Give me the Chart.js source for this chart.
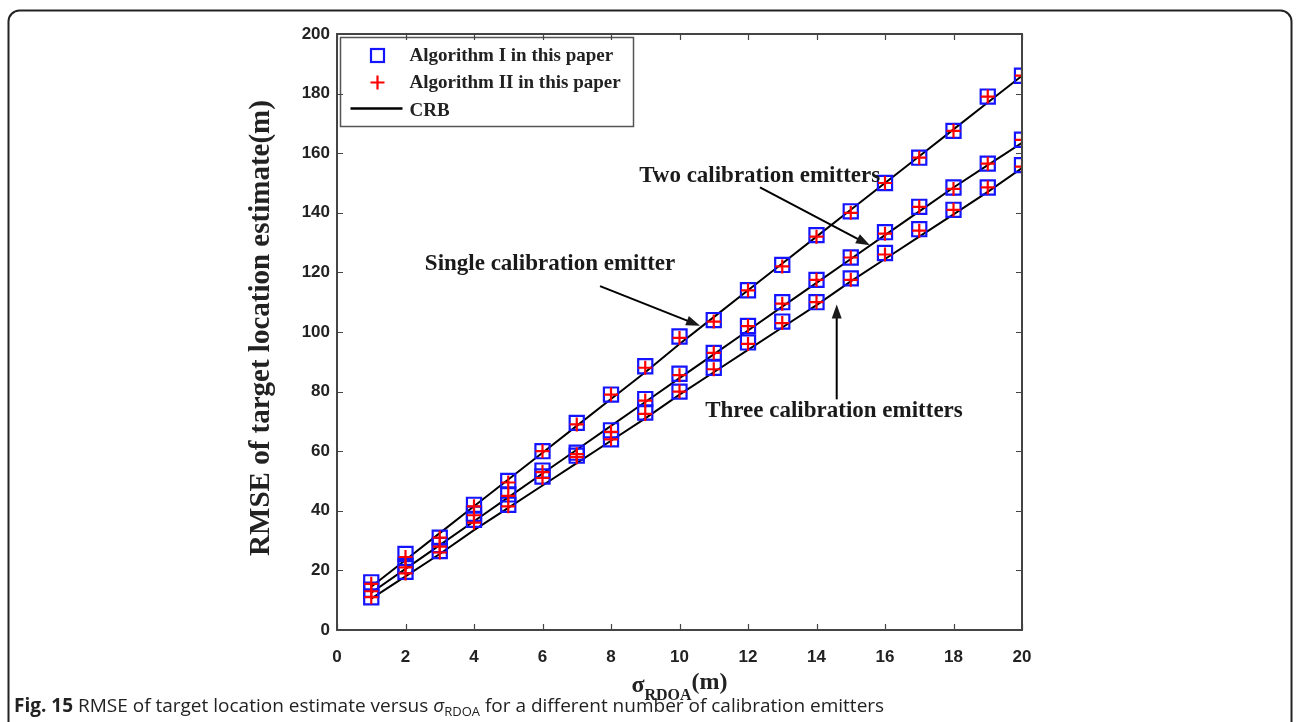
<!DOCTYPE html>
<html>
<head>
<meta charset="utf-8">
<script src="https://cdn.jsdelivr.net/npm/chart.js@4.4.0/dist/chart.umd.min.js"></script>
<style>
    html, body { margin: 0; padding: 0; background: #fff; }
    #wrap { position: relative; width: 1296px; height: 722px; }
</style>
</head>
<body>
<div id="wrap"><canvas id="rmseChart" width="1296" height="722"></canvas></div>
<script>
// sigma_RDOA (m)
const sigmaValues = [1, 2, 3, 4, 5, 6, 7, 8, 9, 10, 11, 12, 13, 14, 15, 16, 17, 18, 19, 20];
const xTickValues = [0, 2, 4, 6, 8, 10, 12, 14, 16, 18, 20];
const yTickValues = [0, 20, 40, 60, 80, 100, 120, 140, 160, 180, 200];

// single calibration emitter
const singleAlgI  = [16, 25.5, 31, 42, 50, 60, 69.5, 79, 88.5, 98.5, 104, 114, 122.5, 132.5, 140.5, 150, 158.5, 167.5, 179, 186];
const singleAlgII = [15.5, 24.5, 31, 41.5, 49.5, 60, 69, 79, 88, 98, 103.5, 114, 122, 132, 140, 150, 158.5, 167.5, 179, 186];
const singleCRB   = [14.5, 23.5, 32.5, 41.5, 50.5, 59.5, 68.5, 77.5, 86.5, 96, 105, 114, 123, 132, 141, 150, 159, 168, 177, 186];

// two calibration emitters
const twoAlgI  = [13.5, 21.5, 28.5, 39, 45.5, 53.5, 59.5, 67, 77.5, 86, 93, 102, 110, 117.5, 125, 133.5, 142, 148.5, 156.5, 164.5];
const twoAlgII = [13, 21, 28, 38.5, 45, 53, 59, 66.5, 77, 85.5, 93, 102, 109.5, 117.5, 125, 133, 142, 148, 156.5, 164.5];
const twoCRB   = [12.5, 20.5, 28.5, 36.5, 44.5, 52.5, 60.5, 68.5, 76.5, 84.5, 92.5, 100.5, 108.5, 116.5, 124.5, 132.5, 140.5, 148.5, 156, 163.5];

// three calibration emitters
const threeAlgI  = [11, 19.5, 26.5, 37, 42, 51.5, 58.5, 64, 73, 80, 88, 96.5, 103.5, 110, 118, 126.5, 134.5, 141, 148.5, 156];
const threeAlgII = [11, 19, 26, 36, 41.5, 51, 58, 64, 72.5, 80, 87.5, 96, 103, 110, 117.5, 126, 134, 141, 148.5, 155.5];
const threeCRB   = [10.5, 18, 25.5, 33.5, 41, 48.5, 56, 63.5, 71, 79, 86.5, 94, 101.5, 109, 117, 124.5, 132, 139.5, 147, 155];

const legendLabels = ['Algorithm I in this paper', 'Algorithm II in this paper', 'CRB'];

// text callouts, in data coordinates
const callouts = [
    { text: 'Single calibration emitter', at: [6.22, 122.9], from: [7.68, 115.4], to: [10.6, 102.1] },
    { text: 'Two calibration emitters', at: [12.34, 152.4], from: [12.35, 148.5], to: [15.56, 129.1] },
    { text: 'Three calibration emitters', at: [14.51, 73.4], from: [14.59, 77.4], to: [14.59, 109.2] }
];

const SERIF = '"Liberation Serif", "Times New Roman", serif';
const TICK_FONT = '"Liberation Sans Narrow", "Liberation Sans", Arial, sans-serif';

function toPoints(values) {
    return sigmaValues.map((s, i) => ({ x: s, y: values[i] }));
}

function crbDataset(values) {
    return {
        label: 'CRB',
        data: toPoints(values),
        borderColor: '#000',
        borderWidth: 2,
        pointRadius: 0,
        fill: false,
        tension: 0,
        order: 3
    };
}

function squareDataset(values) {
    return {
        label: legendLabels[0],
        data: toPoints(values),
        showLine: false,
        pointStyle: 'rect',
        pointRadius: 10,
        pointBorderWidth: 2.2,
        pointBorderColor: '#1414ff',
        pointBackgroundColor: 'rgba(0,0,0,0)',
        order: 2
    };
}

function plusDataset(values) {
    return {
        label: legendLabels[1],
        data: toPoints(values),
        showLine: false,
        pointStyle: 'cross',
        pointRadius: 7,
        pointBorderWidth: 2.2,
        pointBorderColor: '#ff0000',
        order: 1
    };
}

function drawArrow(ctx, x1, y1, x2, y2) {
    const ang = Math.atan2(y2 - y1, x2 - x1);
    const headLen = 14, headW = 5;
    ctx.beginPath();
    ctx.moveTo(x1, y1);
    ctx.lineTo(x2 - headLen * 0.8 * Math.cos(ang), y2 - headLen * 0.8 * Math.sin(ang));
    ctx.stroke();
    ctx.beginPath();
    ctx.moveTo(x2, y2);
    ctx.lineTo(x2 - headLen * Math.cos(ang) + headW * Math.sin(ang), y2 - headLen * Math.sin(ang) - headW * Math.cos(ang));
    ctx.lineTo(x2 - headLen * Math.cos(ang) - headW * Math.sin(ang), y2 - headLen * Math.sin(ang) + headW * Math.cos(ang));
    ctx.closePath();
    ctx.fill();
}

const figurePlugin = {
    id: 'figureDecor',
    beforeDraw(chart) {
        const ctx = chart.ctx;
        ctx.save();
        ctx.fillStyle = '#fff';
        ctx.fillRect(0, 0, chart.width, chart.height);
        ctx.restore();
    },
    afterDraw(chart) {
        const ctx = chart.ctx;
        const a = chart.chartArea;
        const xs = chart.scales.x, ys = chart.scales.y;
        ctx.save();

        // legend box
        const lx = a.left + 3.5, ly = a.top + 3.5, lw = 293, lh = 89;
        ctx.fillStyle = '#fff';
        ctx.fillRect(lx, ly, lw, lh);
        ctx.strokeStyle = '#555';
        ctx.lineWidth = 1.5;
        ctx.strokeRect(lx, ly, lw, lh);
        const mx = lx + 37;
        ctx.strokeStyle = '#1414ff';
        ctx.lineWidth = 2.2;
        ctx.strokeRect(mx - 6.5, ly + 11.5, 13, 13);
        ctx.strokeStyle = '#ff0000';
        ctx.beginPath();
        ctx.moveTo(mx - 7, ly + 45); ctx.lineTo(mx + 7, ly + 45);
        ctx.moveTo(mx, ly + 38); ctx.lineTo(mx, ly + 52);
        ctx.stroke();
        ctx.strokeStyle = '#000';
        ctx.lineWidth = 2.5;
        ctx.beginPath();
        ctx.moveTo(lx + 10, ly + 71); ctx.lineTo(lx + 62, ly + 71);
        ctx.stroke();
        ctx.fillStyle = '#222';
        ctx.font = 'bold 19px ' + SERIF;
        ctx.textAlign = 'left';
        ctx.textBaseline = 'middle';
        ctx.fillText(legendLabels[0], lx + 69, ly + 19);
        ctx.fillText(legendLabels[1], lx + 69, ly + 46);
        ctx.fillText(legendLabels[2], lx + 69, ly + 74);

        // plot box with inward ticks on all sides
        ctx.strokeStyle = '#444';
        ctx.lineWidth = 2;
        ctx.strokeRect(a.left, a.top, a.right - a.left, a.bottom - a.top);
        ctx.lineWidth = 1.2;
        ctx.beginPath();
        xTickValues.forEach(v => {
            const px = Math.round(xs.getPixelForValue(v)) + 0.5;
            ctx.moveTo(px, a.bottom); ctx.lineTo(px, a.bottom - 6);
            ctx.moveTo(px, a.top); ctx.lineTo(px, a.top + 6);
        });
        yTickValues.forEach(v => {
            const py = Math.round(ys.getPixelForValue(v)) + 0.5;
            ctx.moveTo(a.left, py); ctx.lineTo(a.left + 6, py);
            ctx.moveTo(a.right, py); ctx.lineTo(a.right - 6, py);
        });
        ctx.stroke();

        // callouts
        ctx.fillStyle = '#1a1a1a';
        ctx.strokeStyle = '#000';
        ctx.lineWidth = 2;
        ctx.font = 'bold 23px ' + SERIF;
        ctx.textAlign = 'center';
        callouts.forEach(c => {
            ctx.fillText(c.text, xs.getPixelForValue(c.at[0]), ys.getPixelForValue(c.at[1]));
            drawArrow(ctx,
                xs.getPixelForValue(c.from[0]), ys.getPixelForValue(c.from[1]),
                xs.getPixelForValue(c.to[0]), ys.getPixelForValue(c.to[1]));
        });

        // y axis title
        ctx.save();
        ctx.translate(262, 328);
        ctx.rotate(-Math.PI / 2);
        ctx.font = 'bold 29px ' + SERIF;
        ctx.fillStyle = '#222';
        ctx.textAlign = 'center';
        ctx.fillText('RMSE of target location estimate(m)', 0, 0);
        ctx.restore();

        // x axis title: sigma_RDOA(m)
        ctx.fillStyle = '#222';
        ctx.textAlign = 'left';
        ctx.textBaseline = 'alphabetic';
        const parts = [
            { t: 'σ', f: 'bold 24px ' + SERIF, dy: 0 },
            { t: 'RDOA', f: 'bold 16px ' + SERIF, dy: 8 },
            { t: '(m)', f: 'bold 24px ' + SERIF, dy: -3 }
        ];
        let total = 0;
        parts.forEach(p => { ctx.font = p.f; p.w = ctx.measureText(p.t).width; total += p.w; });
        let cx = (a.left + a.right) / 2 - total / 2;
        parts.forEach(p => { ctx.font = p.f; ctx.fillText(p.t, cx, 692 + p.dy); cx += p.w; });

        // caption
        const cap = [
            { t: 'Fig. 15', f: 'bold 19px "Open Sans", sans-serif', dy: 0 },
            { t: ' RMSE of target location estimate versus ', f: '19px "Open Sans", sans-serif', dy: 0 },
            { t: 'σ', f: 'italic 19px "Open Sans", sans-serif', dy: 0 },
            { t: 'RDOA', f: '13px "Open Sans", sans-serif', dy: 4 },
            { t: ' for a different number of calibration emitters', f: '19px "Open Sans", sans-serif', dy: 0 }
        ];
        ctx.fillStyle = '#222';
        let px = 14;
        cap.forEach(p => { ctx.font = p.f; ctx.fillText(p.t, px, 712 + p.dy); px += ctx.measureText(p.t).width; });

        // outer rounded frame
        ctx.strokeStyle = '#222';
        ctx.lineWidth = 2;
        ctx.beginPath();
        ctx.roundRect(8.5, 10.5, 1283, 740, 11);
        ctx.stroke();

        ctx.restore();
    }
};

const ctx = document.getElementById('rmseChart');
new Chart(ctx, {
    type: 'line',
    data: {
        datasets: [
            plusDataset(singleAlgII), plusDataset(twoAlgII), plusDataset(threeAlgII),
            squareDataset(singleAlgI), squareDataset(twoAlgI), squareDataset(threeAlgI),
            crbDataset(singleCRB), crbDataset(twoCRB), crbDataset(threeCRB)
        ]
    },
    options: {
        responsive: false,
        animation: false,
        layout: { padding: { left: 277, right: 274, top: 34, bottom: 42 } },
        plugins: {
            legend: { display: false },
            tooltip: { enabled: false }
        },
        scales: {
            x: {
                type: 'linear',
                min: 0,
                max: 20,
                afterBuildTicks: s => { s.ticks = xTickValues.map(v => ({ value: v })); },
                afterFit: s => { s.height = 50; },
                grid: { display: false, drawTicks: false },
                border: { display: false },
                ticks: {
                    padding: 17,
                    maxRotation: 0,
                    color: '#222',
                    font: { family: TICK_FONT, weight: 'bold', size: 17 }
                }
            },
            y: {
                type: 'linear',
                min: 0,
                max: 200,
                afterBuildTicks: s => { s.ticks = yTickValues.map(v => ({ value: v })); },
                afterFit: s => { s.width = 60; },
                grid: { display: false, drawTicks: false },
                border: { display: false },
                ticks: {
                    padding: 7,
                    color: '#222',
                    font: { family: TICK_FONT, weight: 'bold', size: 17 }
                }
            }
        }
    },
    plugins: [figurePlugin]
});
</script>
</body>
</html>
